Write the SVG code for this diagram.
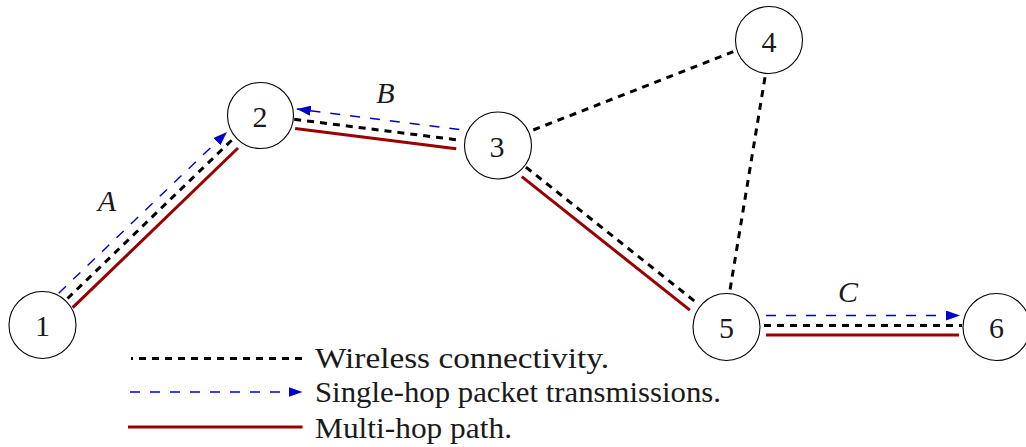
<svg xmlns="http://www.w3.org/2000/svg" width="1026" height="447" viewBox="0 0 1026 447">
  <style>
    .node circle { fill: #ffffff; stroke: #000000; stroke-width: 1.1; }
    .tx { font-family: 'Liberation Serif', 'DejaVu Serif', serif; font-size: 30px; fill: #1a1a1a; }
    .node text { text-anchor: middle; }
    .lbl { font-style: italic; text-anchor: middle; }
    .wire { fill: none; stroke: #000000; stroke-width: 3; stroke-dasharray: 7 6; }
    .hop { fill: none; stroke: #0000cc; stroke-width: 1.4; stroke-dasharray: 10 10; marker-end: url(#tip); }
    .path { fill: none; stroke: #990000; stroke-width: 3; }
  </style>
  <defs>
    <marker id="tip" markerUnits="userSpaceOnUse" markerWidth="14" markerHeight="10" refX="14" refY="5" orient="auto">
      <path d="M0,0 L14,5 L0,10 Z" fill="#0000cc"/>
    </marker>
  </defs>

  <rect width="1026" height="447" fill="#ffffff"/>

  <g id="connectors">
    <!-- link 1-2 -->
    <line class="hop" x1="58.7" y1="293.2" x2="227" y2="132"/>
    <line class="wire" x1="67.5" y1="298.5" x2="234" y2="138"/>
    <line class="path" x1="72.6" y1="307.7" x2="238" y2="148"/>
    <!-- link 3-2 -->
    <line class="hop" x1="459.3" y1="129.5" x2="296.8" y2="109"/>
    <line class="wire" x1="294.2" y1="119.3" x2="457.3" y2="139.9"/>
    <line class="path" x1="295.1" y1="128.4" x2="456.2" y2="148.8"/>
    <!-- link 3-4 -->
    <line class="wire" x1="533.3" y1="130" x2="733.3" y2="51.7"/>
    <!-- link 4-5 -->
    <line class="wire" x1="765" y1="77.3" x2="730" y2="290"/>
    <!-- link 3-5 -->
    <line class="wire" x1="525.9" y1="167.1" x2="695.1" y2="301.6"/>
    <line class="path" x1="521.8" y1="176.6" x2="689.9" y2="310.2"/>
    <!-- link 5-6 -->
    <line class="hop" x1="766" y1="315.5" x2="960" y2="315.5"/>
    <line class="wire" x1="764" y1="325.5" x2="962" y2="325.5"/>
    <line class="path" x1="766" y1="335" x2="959" y2="335"/>
  </g>

  <g id="n1" class="node"><circle cx="42.5" cy="325" r="33.5"/><text class="tx" font-family="Liberation Serif, serif" x="42.5" y="336">1</text></g>
  <g id="n2" class="node"><circle cx="260.5" cy="115.5" r="33"/><text class="tx" font-family="Liberation Serif, serif" x="260" y="126.5">2</text></g>
  <g id="n3" class="node"><circle cx="498" cy="145.5" r="33.5"/><text class="tx" font-family="Liberation Serif, serif" x="497" y="156.5">3</text></g>
  <g id="n4" class="node"><circle cx="769" cy="40" r="33.5"/><text class="tx" font-family="Liberation Serif, serif" x="769" y="52">4</text></g>
  <g id="n5" class="node"><circle cx="726.5" cy="327" r="33.5"/><text class="tx" font-family="Liberation Serif, serif" x="726.5" y="338">5</text></g>
  <g id="n6" class="node"><circle cx="996.5" cy="327" r="33.5"/><text class="tx" font-family="Liberation Serif, serif" x="996.5" y="338">6</text></g>

  <g id="labels" font-family="Liberation Serif, serif">
    <text class="tx lbl" x="107" y="210.5">A</text>
    <text class="tx lbl" x="385.5" y="103">B</text>
    <text class="tx lbl" x="848" y="302">C</text>
  </g>

  <g id="legend" font-family="Liberation Serif, serif">
    <line class="wire" x1="131" y1="358.5" x2="303" y2="358.5" stroke-dashoffset="5"/>
    <text class="tx" x="315" y="368" textLength="294" lengthAdjust="spacingAndGlyphs">Wireless connectivity.</text>
    <line class="hop" x1="130" y1="392" x2="302.5" y2="392"/>
    <text class="tx" x="315" y="402" textLength="406" lengthAdjust="spacingAndGlyphs">Single-hop packet transmissions.</text>
    <line class="path" x1="128" y1="427" x2="302.5" y2="427"/>
    <text class="tx" x="315" y="437.5" textLength="197" lengthAdjust="spacingAndGlyphs">Multi-hop path.</text>
  </g>
</svg>
